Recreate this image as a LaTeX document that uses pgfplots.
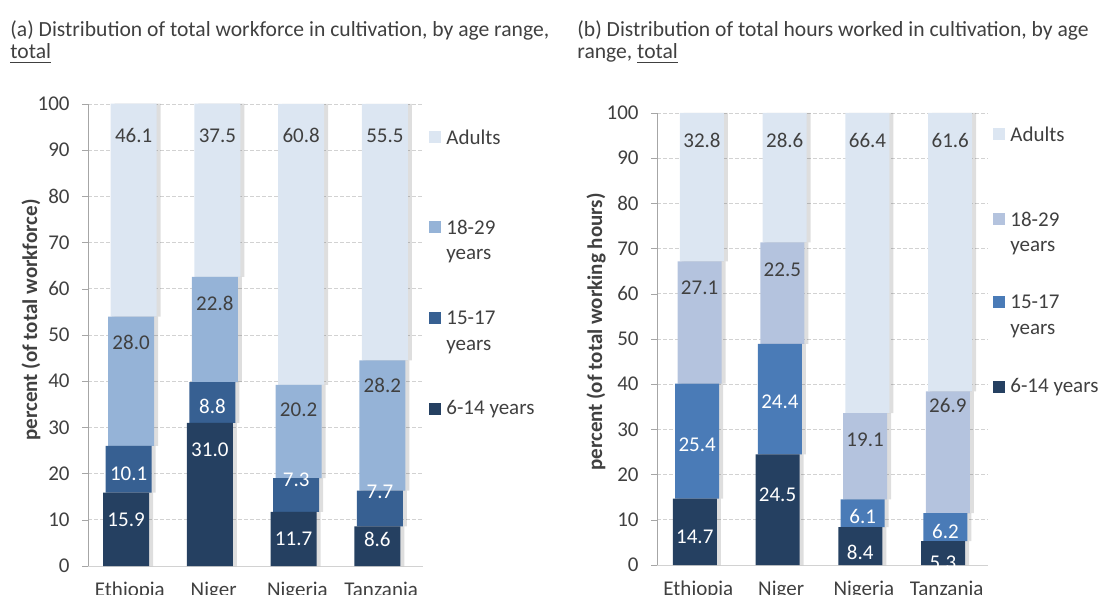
\documentclass[border=0pt]{standalone}
\usepackage{fontspec}
\setmainfont{Carlito}
\usepackage{pgfplots}
\usepackage{pgfplotstable}
\pgfplotsset{compat=1.18}

\definecolor{txt}{RGB}{64,64,64}
\definecolor{gridc}{RGB}{210,210,210}
\definecolor{axc}{RGB}{166,166,166}
\definecolor{cA}{RGB}{37,64,97}
\definecolor{cBl}{RGB}{55,96,146}
\definecolor{cCl}{RGB}{149,179,215}
\definecolor{cD}{RGB}{220,230,242}
\definecolor{cBr}{RGB}{74,123,183}
\definecolor{cCr}{RGB}{180,195,222}

% shares: a = 6-14, b = 15-17, c = 18-29, d = adults
\pgfplotstableread{
x a b c d
0 15.9 10.1 28.0 46.1
1 31.0 8.8 22.8 37.5
2 11.7 7.3 20.2 60.8
3 8.6 7.7 28.2 55.5
}\leftdata
\pgfplotstableread{
x a b c d
0 14.7 25.4 27.1 32.8
1 24.5 24.4 22.5 28.6
2 8.4 6.1 19.1 66.4
3 5.3 6.2 26.9 61.6
}\rightdata
% where the value labels sit
\pgfplotstableread{
x ya ta yb tb yc tc yd td
0 10.0 15.9 19.9 10.1 48.5 28.0 93.1 46.1
1 25.1 31.0 34.6 8.8 56.9 22.8 93.1 37.5
2 5.8 11.7 18.6 7.3 33.8 20.2 93.1 60.8
3 5.8 8.6 16.0 7.7 39.0 28.2 93.1 55.5
}\leftlab
\pgfplotstableread{
x ya ta yb tb yc tc yd td
0 6.2 14.7 26.5 25.4 61.3 27.1 94.0 32.8
1 15.5 24.5 36.1 24.4 65.3 22.5 94.0 28.6
2 2.7 8.4 10.8 6.1 27.7 19.1 94.0 66.4
3 0.6 5.3 7.5 6.2 35.2 26.9 94.0 61.6
}\rightlab

\newcommand\fs{\fontsize{10.5}{12}\selectfont}
\newcommand\ft{\fontsize{10.8}{12}\selectfont}

\pgfplotsset{
  base/.style={scale only axis, xmin=-0.5, xmax=3.5, ymin=0, ymax=100,
    enlargelimits=false, clip=false, anchor=south west},
  stk/.style={base, ybar stacked,
    axis x line*=bottom, axis y line*=left,
    x axis line style={draw=gridc},
    y axis line style={draw=axc},
    ytick={0,10,...,100}, xtick={0,1,2,3},
    xticklabels={Ethiopia,Niger,Nigeria,Tanzania},
    xtick style={draw=none}, ytick style={draw=axc},
    tick align=outside, major tick length=3pt,
    ymajorgrids, grid style={gridc, dash pattern=on 2pt off 1pt},
    tick label style={font=\fs, text=txt},
    /pgf/number format/assume math mode=true,
    yticklabel style={inner sep=0pt, xshift=-6pt},
    xticklabel style={inner sep=0pt, yshift=-5pt, anchor=north},
  },
  shad/.style={draw=none, preaction={fill=black, opacity=0.13,
      transform canvas={xshift=2pt}}},
  lab/.style={base, axis lines=none},
  lp/.style={only marks, mark=none, nodes near coords,
    nodes near coords align=center, point meta=explicit symbolic,
    every node near coord/.append style={font=\fs, text=#1, inner sep=0pt}},
}

\begin{document}
\begin{tikzpicture}[x=1pt,y=1pt]
\useasboundingbox (0,0) rectangle (551,297);

% titles
\node[anchor=base west, text=txt, font=\ft, inner sep=0pt] at (5,278.5)
  {(a) Distribution of total workforce in cultivation, by age range,};
\node[anchor=base west, text=txt, font=\ft, inner sep=0pt] at (5,267.5)
  {\underline{total}};
\node[anchor=base west, text=txt, font=\ft, inner sep=0pt] at (288.5,278.5)
  {(b) Distribution of total hours worked in cultivation, by age};
\node[anchor=base west, text=txt, font=\ft, inner sep=0pt] at (288.5,267.5)
  {range, \underline{total}};

% y labels
\node[rotate=90, text=txt, font=\fs\bfseries] at (15.5,137) {percent (of total workforce)};
\node[rotate=90, text=txt, font=\fs\bfseries] at (298,131) {percent (of total working hours)};

% (a)
\begin{axis}[stk, at={(44pt,14pt)}, width=167.5pt, height=231pt, bar width=23pt]
\addplot[shad, fill=cA, bar shift=-1.9pt] table[x=x,y=a]{\leftdata};
\addplot[shad, fill=cBl, bar shift=-0.6pt] table[x=x,y=b]{\leftdata};
\addplot[shad, fill=cCl, bar shift=0.6pt] table[x=x,y=c]{\leftdata};
\addplot[shad, fill=cD, bar shift=1.9pt] table[x=x,y=d]{\leftdata};
\end{axis}
\begin{axis}[lab, at={(44pt,14pt)}, width=167.5pt, height=231pt]
\addplot[lp=white, every node near coord/.append style={xshift=-1.9pt}] table[x=x,y=ya,meta=ta]{\leftlab};
\addplot[lp=white, every node near coord/.append style={xshift=-0.6pt}] table[x=x,y=yb,meta=tb]{\leftlab};
\addplot[lp=txt, every node near coord/.append style={xshift=0.6pt}] table[x=x,y=yc,meta=tc]{\leftlab};
\addplot[lp=txt, every node near coord/.append style={xshift=1.9pt}] table[x=x,y=yd,meta=td]{\leftlab};
\end{axis}

% (b)
\begin{axis}[stk, at={(328.5pt,14.5pt)}, width=165.5pt, height=226pt, bar width=22pt]
\addplot[shad, fill=cA, bar shift=-1.8pt] table[x=x,y=a]{\rightdata};
\addplot[shad, fill=cBr, bar shift=-0.6pt] table[x=x,y=b]{\rightdata};
\addplot[shad, fill=cCr, bar shift=0.6pt] table[x=x,y=c]{\rightdata};
\addplot[shad, fill=cD, bar shift=1.8pt] table[x=x,y=d]{\rightdata};
\end{axis}
\begin{axis}[lab, at={(328.5pt,14.5pt)}, width=165.5pt, height=226pt]
\addplot[lp=white, every node near coord/.append style={xshift=-1.8pt}] table[x=x,y=ya,meta=ta]{\rightlab};
\addplot[lp=white, every node near coord/.append style={xshift=-0.6pt}] table[x=x,y=yb,meta=tb]{\rightlab};
\addplot[lp=txt, every node near coord/.append style={xshift=0.6pt}] table[x=x,y=yc,meta=tc]{\rightlab};
\addplot[lp=txt, every node near coord/.append style={xshift=1.8pt}] table[x=x,y=yd,meta=td]{\rightlab};
\end{axis}

% legends
\begin{scope}[every node/.style={anchor=west, text=txt, font=\fs, inner sep=0pt}]
\fill[cD]  (214.5,225.5) rectangle ++(6,6);
\node at (223,228.5) {Adults};
\fill[cCl] (214.5,180.5) rectangle ++(6,6);
\node at (223,183.5) {18-29};
\node at (223,169) {years};
\fill[cBl] (214.5,135) rectangle ++(6,6);
\node at (223,138) {15-17};
\node at (223,123.5) {years};
\fill[cA]  (214.5,89.5) rectangle ++(6,6);
\node at (223,92.5) {6-14 years};

\fill[cD]  (496.5,227) rectangle ++(6,6);
\node at (505,230) {Adults};
\fill[cCr] (496.5,184.5) rectangle ++(6,6);
\node at (505,187.5) {18-29};
\node at (505,173) {years};
\fill[cBr] (496.5,143) rectangle ++(6,6);
\node at (505,146) {15-17};
\node at (505,131.5) {years};
\fill[cA]  (496.5,100.5) rectangle ++(6,6);
\node at (505,103.5) {6-14 years};
\end{scope}
\end{tikzpicture}
\end{document}
